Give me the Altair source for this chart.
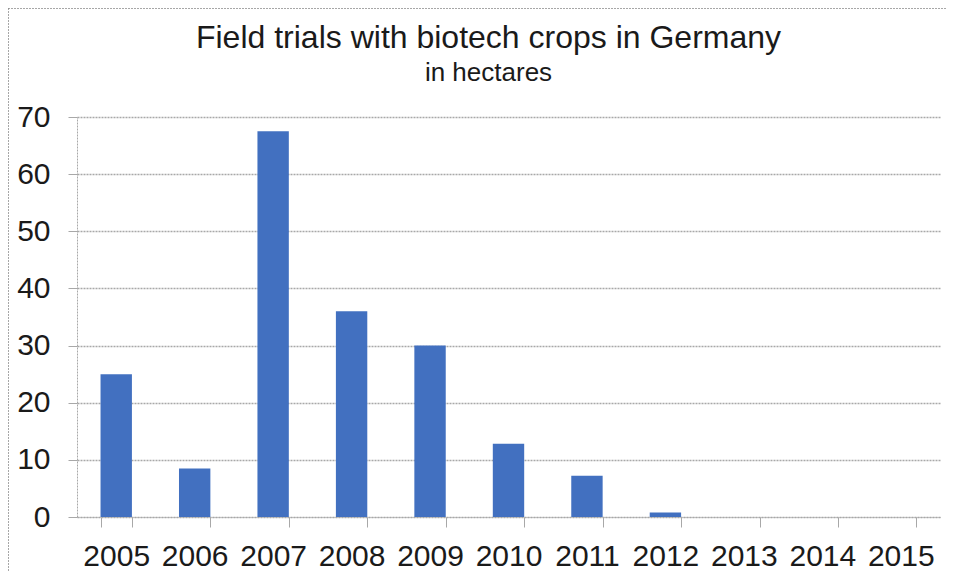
import altair as alt
import pandas as pd

years = ["2005", "2006", "2007", "2008", "2009", "2010", "2011", "2012", "2013", "2014", "2015"]
hectares = [25, 8.5, 67.5, 36, 30, 12.8, 7.2, 0.8, 0, 0, 0]
y_ticks = [0, 10, 20, 30, 40, 50, 60, 70]

df = pd.DataFrame({"year": years, "hectares": hectares})
FONT = "Liberation Sans"
GRID = "#a8a8a8"

bars = alt.Chart(df).mark_bar(color="#4270C0").encode(
    x=alt.X(
        "year:N", sort=years, title=None,
        scale=alt.Scale(paddingInner=0.6, paddingOuter=0.3),
        axis=alt.Axis(labelAngle=0, labelFontSize=30, labelFont=FONT, labelColor="#1a1a1a",
                      labelPadding=14, tickBand="extent", tickSize=10, tickColor=GRID,
                      domainColor=GRID, domainDash=[2, 1], grid=False),
    ),
    y=alt.Y(
        "hectares:Q", title=None,
        scale=alt.Scale(domain=[0, 70]),
        axis=alt.Axis(values=y_ticks, tickSize=9, tickColor=GRID, labelFontSize=30, labelFont=FONT,
                      labelColor="#1a1a1a", labelPadding=18, gridColor=GRID, gridDash=[2, 1],
                      gridWidth=1.5, domainColor=GRID, domainDash=[2, 1]),
    ),
)

one = pd.DataFrame({"a": [0]})
border_top = alt.Chart(one).mark_rule(color="#8a8a8a", strokeDash=[2, 1], strokeWidth=1.5).encode(
    x=alt.value(-69), x2=alt.value(870), y=alt.value(-109)
)
border_left = alt.Chart(one).mark_rule(color="#8a8a8a", strokeDash=[2, 1], strokeWidth=1.5).encode(
    x=alt.value(-69), y=alt.value(-109), y2=alt.value(460)
)

chart = alt.layer(bars, border_top, border_left).properties(
    width=863,
    height=400,
    padding={"left": 69, "top": 109, "right": 7, "bottom": 54},
    autosize=alt.AutoSizeParams(type="none"),
    title=alt.TitleParams(
        text="Field trials with biotech crops in Germany",
        subtitle="in hectares",
        font=FONT, fontSize=32, fontWeight="normal", color="#1a1a1a",
        subtitleFont=FONT, subtitleFontSize=26, subtitleColor="#1a1a1a",
        anchor="middle", dx=-20, offset=-80, subtitlePadding=5,
    ),
).configure_view(stroke=None)

chart.save("out.html", embed_options={"renderer": "svg", "actions": False})
